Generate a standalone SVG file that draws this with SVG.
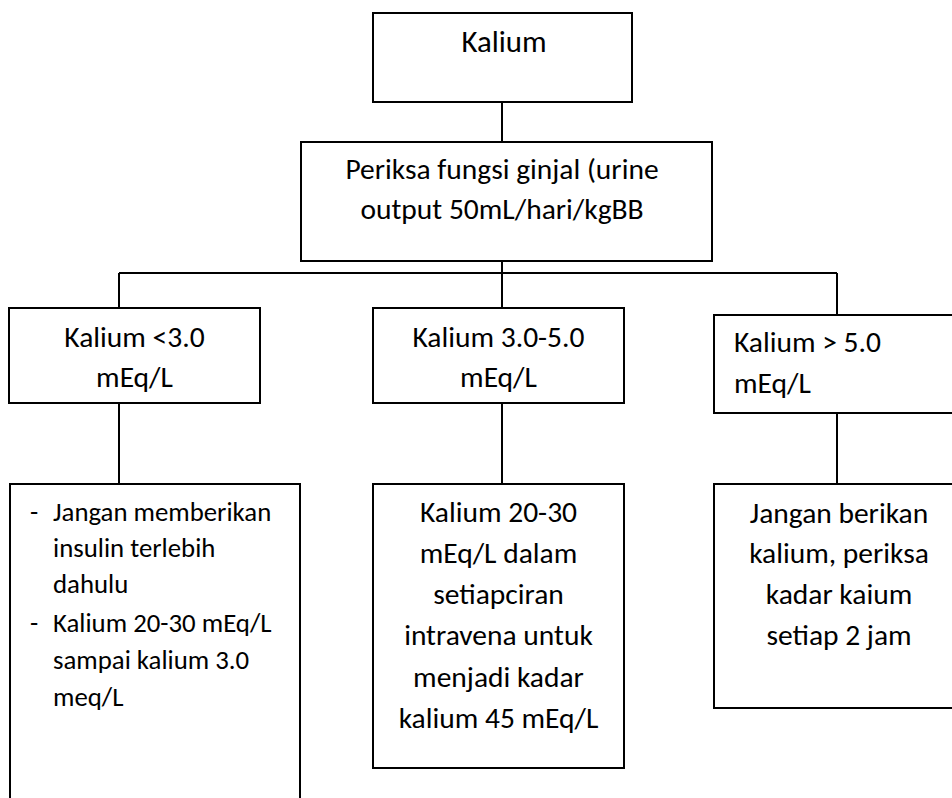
<svg xmlns="http://www.w3.org/2000/svg" width="952" height="798" viewBox="0 0 952 798">
  <style>
    .box { fill: #ffffff; stroke: #000000; stroke-width: 2; }
    .wire { fill: none; stroke: #000000; stroke-width: 2; }
    text { font-family: Carlito, Lato, "Liberation Sans", sans-serif; font-size: 29.5px; fill: #000000; }
    .c { text-anchor: middle; }
    .sm { font-size: 26.8px; }
  </style>
  <rect x="0" y="0" width="952" height="798" fill="#ffffff"/>

  <!-- connectors -->
  <g id="connectors">
    <path class="wire" d="M502 102 V142"/>
    <path class="wire" d="M502 261 V273"/>
    <path class="wire" d="M119 273 H837"/>
    <path class="wire" d="M119 273 V308"/>
    <path class="wire" d="M502 273 V308"/>
    <path class="wire" d="M837 273 V315"/>
    <path class="wire" d="M119 403 V484"/>
    <path class="wire" d="M502 403 V484"/>
    <path class="wire" d="M837 413 V484"/>
  </g>

  <g id="kalium">
    <rect class="box" x="373" y="13" width="259" height="89"/>
    <text class="c" x="504" y="52" style="font-size:30.8px">Kalium</text>
  </g>

  <g id="periksa">
    <rect class="box" x="301" y="142" width="411" height="119"/>
    <text class="c" x="502" y="179">Periksa fungsi ginjal (urine</text>
    <text class="c" x="502" y="219">output 50mL/hari/kgBB</text>
  </g>

  <g id="kalium-low">
    <rect class="box" x="9" y="308" width="251" height="95"/>
    <text class="c" x="134.5" y="347">Kalium &lt;3.0</text>
    <text class="c" x="134.5" y="387">mEq/L</text>
  </g>

  <g id="kalium-normal">
    <rect class="box" x="373" y="308" width="251" height="95"/>
    <text class="c" x="498.5" y="347">Kalium 3.0-5.0</text>
    <text class="c" x="498.5" y="387">mEq/L</text>
  </g>

  <g id="kalium-high">
    <rect class="box" x="714" y="315" width="250" height="98"/>
    <text x="734" y="352">Kalium &gt; 5.0</text>
    <text x="734" y="393">mEq/L</text>
  </g>

  <g id="action-low">
    <rect class="box" x="10" y="484" width="290" height="330"/>
    <text class="sm" x="30" y="521">-</text>
    <text class="sm" x="53" y="521">Jangan memberikan</text>
    <text class="sm" x="53" y="557">insulin terlebih</text>
    <text class="sm" x="53" y="593">dahulu</text>
    <text class="sm" x="30" y="632">-</text>
    <text class="sm" x="53" y="632">Kalium 20-30 mEq/L</text>
    <text class="sm" x="53" y="669">sampai kalium 3.0</text>
    <text class="sm" x="53" y="706">meq/L</text>
  </g>

  <g id="action-normal">
    <rect class="box" x="373" y="484" width="251" height="284"/>
    <text class="c" x="498.5" y="522">Kalium 20-30</text>
    <text class="c" x="498.5" y="563">mEq/L dalam</text>
    <text class="c" x="498.5" y="604">setiapciran</text>
    <text class="c" x="498.5" y="645">intravena untuk</text>
    <text class="c" x="498.5" y="687">menjadi kadar</text>
    <text class="c" x="498.5" y="728">kalium 45 mEq/L</text>
  </g>

  <g id="action-high">
    <rect class="box" x="714" y="484" width="250" height="224"/>
    <text class="c" x="839" y="523">Jangan berikan</text>
    <text class="c" x="839" y="563">kalium, periksa</text>
    <text class="c" x="839" y="604">kadar kaium</text>
    <text class="c" x="839" y="645">setiap 2 jam</text>
  </g>
</svg>
